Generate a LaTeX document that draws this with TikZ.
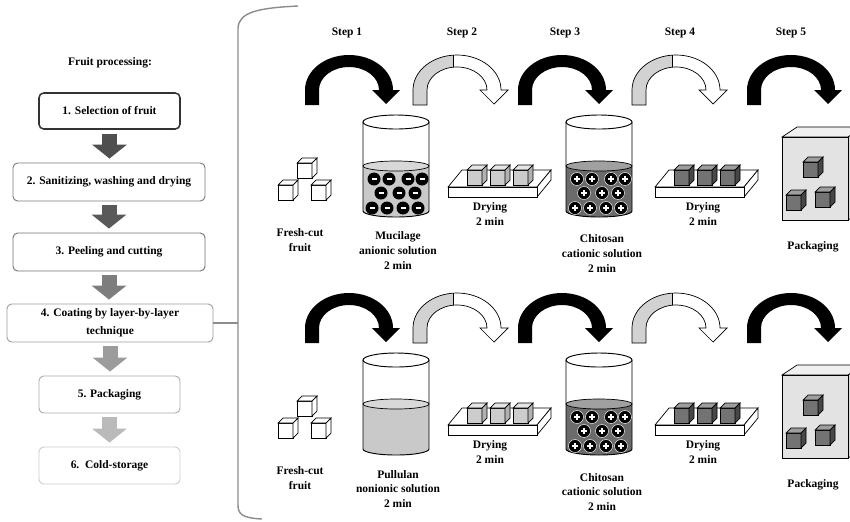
\documentclass[tikz,border=0pt]{standalone}
\usepackage{fontspec}
\setmainfont{Liberation Serif}
\usetikzlibrary{arrows.meta, positioning}

\definecolor{curlgray}{HTML}{D2D2D2}
\definecolor{lightliq}{HTML}{C9C9C9}
\definecolor{lightsurf}{HTML}{D8D8D8}
\definecolor{darkliq}{HTML}{6B6B6B}
\definecolor{darksurf}{HTML}{A0A0A0}

% outline of the bent process arrow, foot at the origin
\newcommand{\curlpath}{(0,0) -- (0,-15) arc[start angle=180,end angle=360,x radius=44,y radius=35] -- (95,-15) -- (81,-1) -- (67,-15) -- (74,-15) arc[start angle=360,end angle=180,x radius=30,y radius=23] -- (14,0) -- cycle}

\tikzset{
  txt/.style={font=\bfseries\fontsize{9.8}{12.8}\selectfont, align=center},
  procbox/.style={txt, draw, rounded corners=4pt, line width=0.8pt, inner sep=1pt},
  flowarrow/.style={line width=0.45cm, -{Triangle[width=1.05cm,length=0.42cm,line width=0pt]},
    shorten <=0.12cm, shorten >=0.12cm},
  bracketline/.style={draw=black!45, line width=1.2pt},
  pics/curl/.style={code={\fill[black] \curlpath;}},
  pics/hollowcurl/.style={code={
    \fill[white] \curlpath;
    \begin{scope}
      \clip (-2,2) rectangle (40,-60);
      \fill[curlgray] \curlpath;
    \end{scope}
    \draw \curlpath;
    \draw (40,-49.8) -- (40,-37.8);
  }},
  pics/beaker/.style args={#1/#2}{code={
    \fill[#1] (-33,44) -- (-33,89) arc[start angle=180,end angle=0,x radius=33,y radius=6] -- (33,44) -- cycle;
    \draw[fill=#2] (0,44) ellipse[x radius=33,y radius=5];
    \draw[line width=0.8pt] (-33,0) -- (-33,89) arc[start angle=180,end angle=0,x radius=33,y radius=6] -- (33,0);
    \draw[fill=white, line width=0.8pt] (0,0) ellipse[x radius=33,y radius=7];
  }},
  pics/anions/.style={code={
    \foreach \px/\py in {-22/57,-7/57,12/57,26/57,-15/71,3/71,19/71,-24/86,-9/86,7/86,22/86}{
      \fill[black] (\px,\py) circle (6.5);
      \draw[white, line width=1pt] (\px-2.5,\py) -- (\px+2.5,\py);
    }
  }},
  pics/cations/.style={code={
    \foreach \px/\py in {-22/57,-7/57,12/57,26/57,-15/71,3/71,19/71,-24/86,-9/86,7/86,22/86}{
      \filldraw[fill=black, draw=white, line width=0.4pt] (\px,\py) circle (6.5);
      \draw[white, line width=1.1pt] (\px-3,\py) -- (\px+3,\py) (\px,\py-3) -- (\px,\py+3);
    }
  }},
  pics/cube/.style args={#1/#2/#3}{code={
    \filldraw[fill=#1] (0,0) rectangle (15,-15);
    \filldraw[fill=#2] (0,-15) -- (5,-20) -- (20,-20) -- (15,-15) -- cycle;
    \filldraw[fill=#3] (15,0) -- (20,-5) -- (20,-20) -- (15,-15) -- cycle;
  }},
  pics/tray/.style args={#1/#2/#3}{code={
    \filldraw[fill=white] (0,0) -- (14,-17) -- (103,-17) -- (89,0) -- cycle;
    \filldraw[fill=white] (89,0) -- (103,-17) -- (103,-7) -- (89,10) -- cycle;
    \filldraw[fill=white] (0,0) rectangle (89,10);
    \foreach \cx in {19,42,65}
      \pic at (\cx,-2) {cube=#1/#2/#3};
  }},
  pics/package/.style={code={
    \filldraw[fill=gray!12] (0,0) -- (15,-10) -- (81,-10) -- (66,0) -- cycle;
    \filldraw[fill=gray!30] (66,0) -- (81,-10) -- (81,73) -- (66,83) -- cycle;
    \filldraw[fill=gray!22] (0,0) rectangle (66,83);
    \pic at (21,40) {cube=black!55/black!38/black!72};
    \pic at (4,73) {cube=black!55/black!38/black!72};
    \pic at (33,70) {cube=black!55/black!38/black!72};
  }},
}

\begin{document}
\begin{tikzpicture}[x=0.03cm, y=-0.03cm, line width=0.6pt]
  \fill[white] (0,0) rectangle (850,521);
  \useasboundingbox (0,0) rectangle (850,521);
  \clip (0,0) rectangle (850,521);

  % processing chain
  \node[txt] (title) at (110,63) {Fruit processing:};
  \node[procbox, draw=black!80, line width=1.3pt, minimum width=4.23cm, minimum height=1.08cm] (sel) at (109.5,111) {1. Selection of fruit};
  \node[procbox, draw=black!52, minimum width=5.76cm, minimum height=1.14cm] (sani) at (109,182) {2. Sanitizing, washing and drying};
  \node[procbox, draw=black!55, minimum width=5.76cm, minimum height=1.14cm] (peel) at (109,252) {3. Peeling and cutting};
  \node[procbox, draw=black!38, minimum width=6.18cm, minimum height=1.14cm, font=\bfseries\fontsize{9.8}{15}\selectfont] (coat) at (110,323) {4. Coating by layer-by-layer\\technique};
  \node[procbox, draw=black!33, minimum width=4.23cm, minimum height=1.11cm] (pack) at (109.5,394.5) {5. Packaging};
  \node[procbox, draw=black!20, minimum width=4.23cm, minimum height=1.11cm] (cold) at (109.5,465.5) {6.\ \ Cold-storage};

  \draw[flowarrow, black!69] (sel.south) -- (sel.south |- sani.north);
  \draw[flowarrow, black!65] (sani.south) -- (sani.south |- peel.north);
  \draw[flowarrow, black!51] (peel.south) -- (peel.south |- coat.north);
  \draw[flowarrow, black!39] (coat.south) -- (coat.south |- pack.north);
  \draw[flowarrow, black!27] (pack.south) -- (pack.south |- cold.north);

  % bracket round the coating steps
  \draw[bracketline] (298,6) .. controls (258,8) and (239,12) .. (238,28) -- (238,505) .. controls (238,514) and (242,518) .. (262,519);
  \coordinate (brk) at (238,323);
  \draw[bracketline] (coat.east) -- (coat.east -| brk);

  \node[txt] (step1) at (347,33) {Step 1};
  \node[txt] (step2) at (462,33) {Step 2};
  \node[txt] (step3) at (565,33) {Step 3};
  \node[txt] (step4) at (680,33) {Step 4};
  \node[txt] (step5) at (791,33) {Step 5};

  % first coating sequence
  \pic at (305,105) {curl};
  \pic at (413,105) {hollowcurl};
  \pic at (518,105) {curl};
  \pic at (632,105) {hollowcurl};
  \pic at (747,105) {curl};
  \pic at (297,178) {cube=white/white/white};
  \pic at (278,200) {cube=white/white/white};
  \pic at (311,200) {cube=white/white/white};
  \pic at (396,122) {beaker=lightliq/lightsurf};
  \pic at (396,122) {anions};
  \pic at (448,187) {tray=gray!40/gray!20/gray!60};
  \pic at (599,122) {beaker=darkliq/darksurf};
  \pic at (599,122) {cations};
  \pic at (655,187) {tray=black!55/black!38/black!72};
  \pic at (782,137) {package};
  \node[txt] (fresh1) at (300,240.5) {Fresh-cut\\fruit};
  \node[txt] (mucil) at (398,251) {Mucilage\\anionic solution\\2 min};
  \node[txt] (dry1) at (490,214) {Drying\\2 min};
  \node[txt] (chito1) at (602,254) {Chitosan\\cationic solution\\2 min};
  \node[txt] (dry2) at (703,214) {Drying\\2 min};
  \node[txt] (packlbl1) at (813,247) {Packaging};

  % second coating sequence
  \begin{scope}[shift={(0,238)}]
    \pic at (305,105) {curl};
    \pic at (413,105) {hollowcurl};
    \pic at (518,105) {curl};
    \pic at (632,105) {hollowcurl};
    \pic at (747,105) {curl};
    \pic at (297,178) {cube=white/white/white};
    \pic at (278,200) {cube=white/white/white};
    \pic at (311,200) {cube=white/white/white};
    \pic at (396,122) {beaker=lightliq/lightsurf};
    \pic at (448,187) {tray=gray!40/gray!20/gray!60};
    \pic at (599,122) {beaker=darkliq/darksurf};
    \pic at (599,122) {cations};
    \pic at (655,187) {tray=black!55/black!38/black!72};
    \pic at (782,137) {package};
    \node[txt] (fresh2) at (300,240.5) {Fresh-cut\\fruit};
    \node[txt] (pull) at (398,251) {Pullulan\\nonionic solution\\2 min};
    \node[txt] (dry3) at (490,214) {Drying\\2 min};
    \node[txt] (chito2) at (602,254) {Chitosan\\cationic solution\\2 min};
    \node[txt] (dry4) at (703,214) {Drying\\2 min};
    \node[txt] (packlbl2) at (813,247) {Packaging};
  \end{scope}
\end{tikzpicture}
\end{document}
